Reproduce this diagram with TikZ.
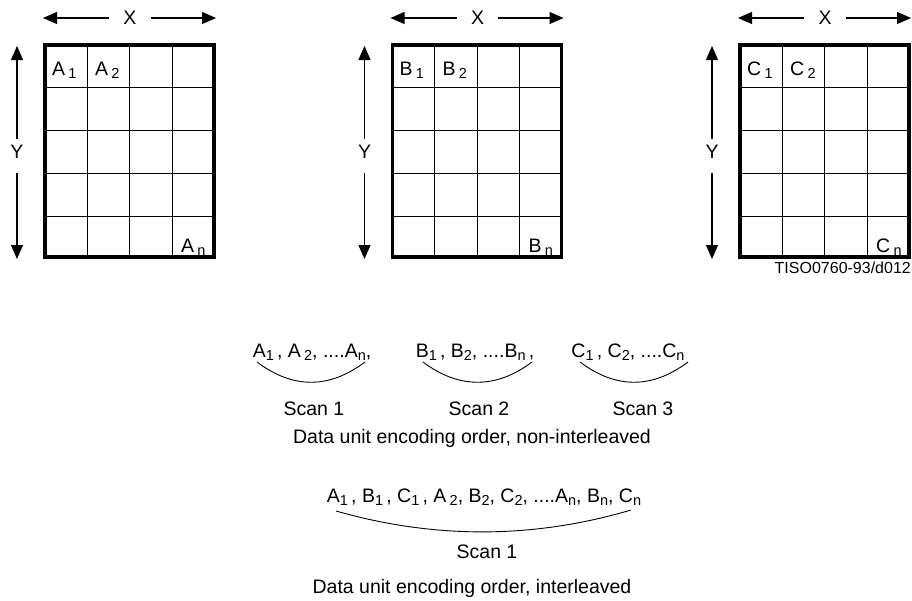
\documentclass[tikz,border=0pt]{standalone}
\usepackage{fontspec}
\setmainfont{Liberation Sans}
\usetikzlibrary{calc}
\usetikzlibrary{arrows.meta}

\newcommand\lowsub[1]{\raisebox{-3pt}{\fontsize{14.5}{15}\selectfont #1}}

\tikzset{
    dimarrow/.style={line width=1.1pt,-{Triangle[length=14pt,width=12pt]}},
    gridline/.style={line width=1.1pt},
    frameline/.style={line width=3.2pt},
    scanarc/.style={line width=0.9pt},
    txt/.style={inner sep=0pt,font=\fontsize{19.5}{22}\selectfont},
    smalltxt/.style={inner sep=0pt,font=\fontsize{16}{18}\selectfont},
}

\begin{document}
\begin{tikzpicture}[x=1pt,y=-1pt]
                \useasboundingbox (0,0) rectangle (912,600);

                \foreach \g/\ox in {A/43,B/390.5,C/738}{
                    \coordinate (nw\g) at (\ox+2,45);
                    \coordinate (se\g) at (\ox+171,257);
                    \coordinate (xl\g) at (\ox,18);
                    \coordinate (xr\g) at (\ox+173,18);
                    \coordinate (yt\g) at (\ox-26,46);
                    \coordinate (yb\g) at (\ox-26,259);

                    \foreach \i in {1,2,3}
                        \draw[gridline] ($(nw\g)+(42.4*\i,0)$) -- ($(nw\g)+(42.4*\i,212)$);
                    \foreach \j in {1,...,4}
                        \draw[gridline] ($(nw\g)+(0,42.8*\j)$) -- ($(nw\g)+(169,42.8*\j)$);
                    \draw[frameline] (nw\g) rectangle (se\g);

                    \node[txt] (labx\g) at (\ox+87,18) {X};
                    \node[txt] (laby\g) at (\ox-26,152) {Y};
                    \draw[dimarrow,shorten <=14pt] (labx\g.west) -- (xl\g);
                    \draw[dimarrow,shorten <=14pt] (labx\g.east) -- (xr\g);
                    \draw[dimarrow,shorten <=6pt] (laby\g.north) -- (yt\g);
                    \draw[dimarrow,shorten <=14pt] (laby\g.south) -- (yb\g);

                    \node[txt,anchor=base west] (one\g) at (\ox+9,75) {\g\,\lowsub{1}};
                    \node[txt,anchor=base west] (two\g) at (\ox+52,75) {\g\,\lowsub{2}};
                    \node[txt,anchor=base west] (last\g) at (\ox+138,252) {\g\,\lowsub{n}};
                }

                \node[smalltxt,anchor=base east] (tiso) at (911,273) {TISO0760-93/d012};

                \node[txt,anchor=base] (seqA) at (312,357) {A\lowsub{1}\,, A\,\lowsub{2}, ....A\lowsub{n},};
                \node[txt,anchor=base] (seqB) at (475,357) {B\lowsub{1}\,, B\lowsub{2}, ....B\lowsub{n}\,,};
                \node[txt,anchor=base] (seqC) at (628,357) {C\lowsub{1}\,, C\lowsub{2}, ....C\lowsub{n}};

                \coordinate (arcAl) at (257,362);
                \coordinate (arcAr) at (365,362);
                \coordinate (arcBl) at (423,362);
                \coordinate (arcBr) at (532,362);
                \coordinate (arcCl) at (580,362);
                \coordinate (arcCr) at (688,362);

                \draw[scanarc] (arcAl) .. controls (293,389) and (329,389) .. (arcAr);
                \draw[scanarc] (arcBl) .. controls (459,389) and (496,389) .. (arcBr);
                \draw[scanarc] (arcCl) .. controls (616,389) and (652,389) .. (arcCr);

                \node[txt,anchor=base] (scanA) at (314,415) {Scan 1};
                \node[txt,anchor=base] (scanB) at (479,415) {Scan 2};
                \node[txt,anchor=base] (scanC) at (643,415) {Scan 3};

                \node[txt,anchor=base] (nonint) at (472,443) {Data unit encoding order, non-interleaved};

                \node[txt,anchor=base] (seqAll) at (484,502) {A\lowsub{1}\,, B\lowsub{1}\,, C\lowsub{1}\,, A\,\lowsub{2}, B\lowsub{2}, C\lowsub{2}, ....A\lowsub{n}, B\lowsub{n}, C\lowsub{n}};

                \coordinate (arcIl) at (336,511);
                \coordinate (arcIr) at (631,510);
                \draw[scanarc] (arcIl) .. controls (434,539) and (533,539) .. (arcIr);

                \node[txt,anchor=base] (scanAll) at (487,558) {Scan 1};
                \node[txt,anchor=base] (inter) at (472,593) {Data unit encoding order, interleaved};
\end{tikzpicture}
\end{document}
